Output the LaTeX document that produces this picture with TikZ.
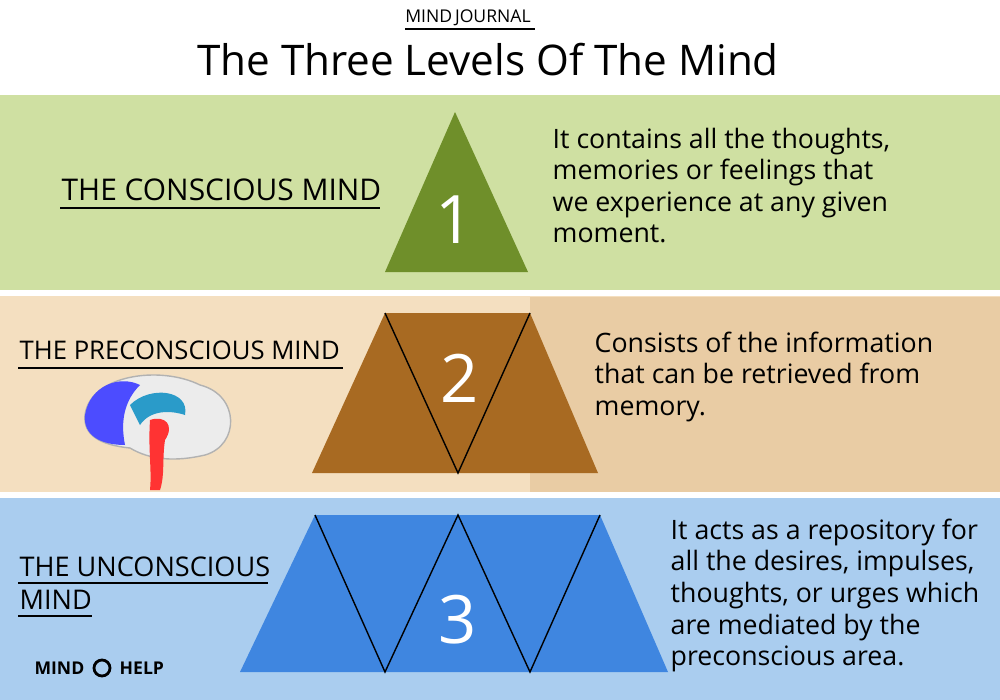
\documentclass[tikz,border=0pt]{standalone}
\usepackage{fontspec}
\setmainfont{Open Sans}
\usetikzlibrary{positioning}
\definecolor{bandgreen}{HTML}{CFE0A2}
\definecolor{trigreen}{HTML}{6F8F2A}
\definecolor{bandtan}{HTML}{F4DFC0}
\definecolor{bandtandark}{HTML}{E9CCA4}
\definecolor{trabrown}{HTML}{A86A22}
\definecolor{bandblue}{HTML}{AACDEF}
\definecolor{trablue}{HTML}{3F86E0}
\tikzset{
  lvllabel/.style={anchor=west, inner sep=0pt, font=\fontsize{7.3}{9.3}\selectfont, align=left},
  lvltext/.style={anchor=north west, inner sep=0pt, font=\fontsize{7.6}{9}\selectfont, align=left},
  lvlnum/.style={text=white, font=\fontsize{19}{20}\selectfont},
  edge/.style={black, line width=0.4pt}
}
\begin{document}
\begin{tikzpicture}[x=0.01cm, y=-0.01cm]
  \useasboundingbox (0,0) rectangle (1000,700);
  % bands
  \fill[white] (0,0) rectangle (1000,95);
  \fill[bandgreen] (0,95) rectangle (1000,293);
  \fill[bandtan] (0,293) rectangle (1000,495);
  \fill[bandtandark] (530,297) rectangle (1000,495);
  \fill[bandblue] (0,495) rectangle (1000,700);
  \draw[white, line width=1.5pt] (0,293) -- (1000,293) (0,495) -- (1000,495);

  % header
  \node[font=\fontsize{5}{6}\selectfont] (logo) at (468,18) {MIND\,JOURNAL};
  \draw (405,29) -- (535,29);
  \node[font=\fontsize{12}{14}\selectfont] (title) at (488,60) {The Three Levels Of The Mind};

  % level 1
  \fill[trigreen] (455,112) coordinate (a1) -- (528,272) coordinate (b1) -- (385,272) coordinate (c1) -- cycle;
  \node[lvlnum] (n1) at (455,220) {1};
  \node[lvllabel, font=\fontsize{8.5}{10}\selectfont] (l1) at (61,190) {THE CONSCIOUS MIND};
  \draw (60,208) -- (380,208);
  \node[lvltext] (t1) at (552,127) {It contains all the thoughts,\\memories or feelings that\\we experience at any given\\moment.};

  % level 2
  \fill[trabrown] (385,313) coordinate (a2) -- (530,313) coordinate (b2) -- (598,473) coordinate (c2) -- (312,473) coordinate (d2) -- cycle;
  \coordinate (v2) at (458,473);
  \draw[edge] (a2) -- (v2) -- (b2);
  \node[lvlnum] (n2) at (460,378) {2};
  \node[lvllabel] (l2) at (19,350) {THE PRECONSCIOUS MIND};
  \draw (18,368) -- (343,368);
  \node[lvltext] (t2) at (594,331) {Consists of the information\\that can be retrieved from\\ memory.};

  % brain
  \fill[gray!15, draw=gray!60] (85,415) .. controls (90,375) and (160,365) .. (200,385) .. controls (240,395) and (240,445) .. (205,455) .. controls (175,462) and (150,460) .. (130,448) .. controls (100,445) and (83,435) .. (85,415) -- cycle;
  \fill[blue!70] (85,415) .. controls (90,385) and (120,375) .. (140,385) .. controls (125,400) and (120,420) .. (125,445) .. controls (100,445) and (83,435) .. (85,415) -- cycle;
  \fill[cyan!60!teal] (130,405) .. controls (150,385) and (190,390) .. (185,415) .. controls (170,410) and (150,410) .. (140,425) -- cycle;
  \fill[red!80] (150,420) .. controls (165,415) and (175,425) .. (165,440) .. controls (162,460) and (165,475) .. (160,490) -- (150,490) .. controls (152,470) and (148,450) .. (150,420) -- cycle;

  % level 3
  \fill[trablue] (315,515) coordinate (a3) -- (600,515) coordinate (b3) -- (668,672) coordinate (c3) -- (240,672) coordinate (d3) -- cycle;
  \coordinate (m3) at (458,515);
  \coordinate (v3a) at (385,672);
  \coordinate (v3b) at (530,672);
  \draw[edge] (a3) -- (v3a) -- (m3) -- (v3b) -- (b3);
  \node[lvlnum] (n3) at (458,620) {3};
  \node[lvllabel, font=\fontsize{7.7}{9.4}\selectfont] (l3) at (19,583) {THE UNCONSCIOUS\\MIND};
  \draw (18,583) -- (268,583) (18,616) -- (92,616);
  \node[lvltext] (t3) at (670,518) {It acts as a repository for\\all the desires, impulses,\\thoughts, or urges which\\are mediated by the\\preconscious area.};

  % footer logo
  \node[font=\fontsize{5}{6}\selectfont\bfseries, anchor=east, inner sep=0pt] (mind) at (85,668) {MIND};
  \draw[thick] (102,668) circle (8);
  \node[font=\fontsize{5}{6}\selectfont\bfseries, anchor=west, inner sep=0pt] (help) at (119,668) {HELP};
\end{tikzpicture}
\end{document}
